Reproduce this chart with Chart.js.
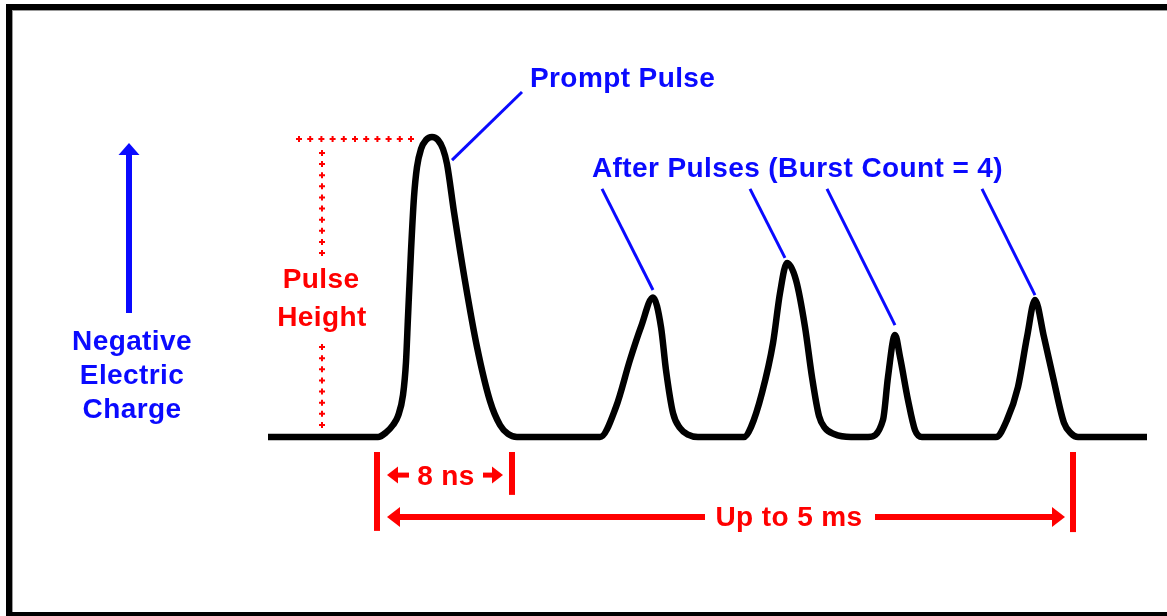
<!DOCTYPE html>
<html>
<head>
<meta charset="utf-8">
<script src="https://cdn.jsdelivr.net/npm/chart.js@4.4.1/dist/chart.umd.min.js"></script>
<style>
  html, body { margin: 0; padding: 0; background: #fff; overflow: hidden; }
  #wrap { position: relative; width: 1167px; height: 616px; }
  #frame {
    position: absolute; left: 6px; top: 4px; width: 1200px; height: 614px;
    box-sizing: border-box; border: 6px solid #000;
    box-shadow: inset 1px 1px 0 #999; pointer-events: none;
  }
</style>
</head>
<body>
<div id="wrap">
  <canvas id="myChart"></canvas>
  <div id="frame"></div>
</div>
<script>
// time (arbitrary units) and charge (prompt pulse = ~100) of the trace
var traceTime = [0, 11.0, 11.8, 12.5, 13.0, 13.5, 13.8, 14.0, 14.3, 14.6, 14.9, 15.3, 15.8, 16.4, 17.0, 17.5, 17.9,
    18.6, 19.7, 20.9, 22.2, 23.2, 24.0, 24.9,
    33.2, 34.8, 36.2, 37.3, 38.5, 39.3, 39.8, 40.5, 41.2, 42.0, 43.0,
    47.6, 48.3, 49.4, 50.5, 51.2, 51.9, 52.8, 53.7, 54.4, 55.1, 55.7, 56.6, 58.3,
    60.0, 61.5, 62.0, 62.7, 63.2, 64.0, 64.7, 65.4,
    72.8, 73.9, 75.0, 75.9, 76.7, 77.6, 78.5, 79.6, 80.3, 81.0, 87.9];
var traceCharge = [0, 0, 1.5, 4, 7, 14, 25, 40, 62, 80, 90, 96, 99, 100, 99, 96, 91,
    75, 52, 30, 12, 4, 1, 0,
    0, 10, 25.7, 36.7, 46.5, 36.7, 22.3, 8, 3, 0.8, 0,
    0, 3.3, 14.7, 31.3, 48, 58, 52.3, 36.7, 20, 7, 3, 1, 0,
    0, 5.7, 20, 34, 26.7, 12.3, 2.3, 0,
    0, 5.7, 16.7, 33.3, 45.7, 33.3, 20, 4.7, 1.2, 0, 0];

var promptLabel = 'Prompt Pulse';
var afterLabel = 'After Pulses (Burst Count = 4)';
var axisLabel = ['Negative', 'Electric', 'Charge'];
var heightLabel = ['Pulse', 'Height'];
var widthLabel = '8 ns';
var spanLabel = 'Up to 5 ms';

var points = traceTime.map(function (t, i) { return { x: t, y: traceCharge[i] }; });

var BLUE = '#0a0aff';
var RED = '#ff0000';
var FONT = 'bold 28px "Liberation Sans", Arial, sans-serif';

function hArrow(ctx, tail, tip, y, shaft, headLen, headH) {
    var dir = tip > tail ? 1 : -1;
    ctx.lineWidth = shaft;
    ctx.beginPath();
    ctx.moveTo(tail, y);
    ctx.lineTo(tip - dir * headLen * 0.8, y);
    ctx.stroke();
    ctx.beginPath();
    ctx.moveTo(tip, y);
    ctx.lineTo(tip - dir * headLen, y - headH / 2);
    ctx.lineTo(tip - dir * headLen, y + headH / 2);
    ctx.closePath();
    ctx.fill();
}

function crosses(ctx, x1, y1, x2, y2, step) {
    var len = Math.hypot(x2 - x1, y2 - y1);
    var n = Math.round(len / step);
    ctx.lineWidth = 2;
    for (var i = 0; i <= n; i++) {
        var x = x1 + (x2 - x1) * i / n;
        var y = y1 + (y2 - y1) * i / n;
        ctx.beginPath();
        ctx.moveTo(x - 3, y); ctx.lineTo(x + 3, y);
        ctx.moveTo(x, y - 3); ctx.lineTo(x, y + 3);
        ctx.stroke();
    }
}

const notes = {
    id: 'notes',
    afterDatasetsDraw(chart) {
        const ctx = chart.ctx;
        const X = v => chart.scales.x.getPixelForValue(v);
        const Y = v => chart.scales.y.getPixelForValue(v);
        ctx.save();
        ctx.font = FONT;
        ctx.letterSpacing = '0.4px';
        ctx.lineCap = 'butt';

        // blue axis arrow
        ctx.strokeStyle = BLUE; ctx.fillStyle = BLUE;
        ctx.lineWidth = 6;
        ctx.beginPath();
        ctx.moveTo(X(-13.9), Y(41.3));
        ctx.lineTo(X(-13.9), Y(94));
        ctx.stroke();
        ctx.beginPath();
        ctx.moveTo(X(-13.9), Y(98));
        ctx.lineTo(X(-13.9) - 10.5, Y(94));
        ctx.lineTo(X(-13.9) + 10.5, Y(94));
        ctx.closePath();
        ctx.fill();

        ctx.textAlign = 'center';
        ctx.textBaseline = 'alphabetic';
        [29, 17.7, 6.3].forEach((q, i) => ctx.fillText(axisLabel[i], X(-13.6), Y(q)));

        // pointer lines
        ctx.lineWidth = 3;
        var ptrs = [[18.4, 92.3, 25.4, 115], [33.4, 82.7, 38.5, 49], [48.2, 82.7, 51.7, 59.7],
            [55.9, 82.7, 62.7, 37.3], [71.4, 82.7, 76.7, 47.3]];
        ptrs.forEach(p => {
            ctx.beginPath();
            ctx.moveTo(X(p[0]), Y(p[1]));
            ctx.lineTo(X(p[2]), Y(p[3]));
            ctx.stroke();
        });
        ctx.textAlign = 'left';
        ctx.fillText(promptLabel, X(26.2), Y(116.7));
        ctx.fillText(afterLabel, X(32.4), Y(86.7));

        // red pulse height markers
        ctx.strokeStyle = RED; ctx.fillStyle = RED;
        crosses(ctx, X(3.1), Y(99.3), X(14.3), Y(99.3), 11);
        crosses(ctx, X(5.4), Y(94.7), X(5.4), Y(61.3), 11);
        crosses(ctx, X(5.4), Y(30), X(5.4), Y(4), 11);
        ctx.textAlign = 'center';
        ctx.fillText(heightLabel[0], X(5.3), Y(49.7));
        ctx.fillText(heightLabel[1], X(5.4), Y(37));

        // bars
        ctx.lineWidth = 6;
        [[10.9, -31.3], [24.4, -19.3], [80.5, -31.7]].forEach(b => {
            ctx.beginPath();
            ctx.moveTo(X(b[0]), Y(-5));
            ctx.lineTo(X(b[0]), Y(b[1]));
            ctx.stroke();
        });

        // 8 ns arrows
        hArrow(ctx, X(14.1), X(11.9), Y(-12.7), 5, 11, 17);
        hArrow(ctx, X(21.5), X(23.5), Y(-12.7), 5, 11, 17);
        ctx.fillText(widthLabel, X(17.8), Y(-16));

        // span arrows
        hArrow(ctx, X(43.7), X(11.9), Y(-26.7), 6, 13, 20);
        hArrow(ctx, X(60.7), X(79.7), Y(-26.7), 6, 13, 20);
        ctx.fillText(spanLabel, X(52.1), Y(-29.7));
        ctx.restore();
    }
};

const config = {
    type: 'line',
    data: {
        datasets: [{
            data: points,
            borderColor: '#000',
            borderWidth: 6.5,
            borderJoinStyle: 'round',
            pointRadius: 0,
            cubicInterpolationMode: 'monotone',
            fill: false,
            clip: false
        }]
    },
    options: {
        responsive: true,
        maintainAspectRatio: false,
        animation: false,
        events: [],
        layout: { padding: 0 },
        plugins: { legend: { display: false }, tooltip: { enabled: false } },
        scales: {
            x: { type: 'linear', min: -26.8, max: 89.9, display: false },
            y: { type: 'linear', min: -59.67, max: 145.67, display: false }
        }
    },
    plugins: [notes]
};

const myChart = new Chart(document.getElementById('myChart'), config);
</script>
</body>
</html>
